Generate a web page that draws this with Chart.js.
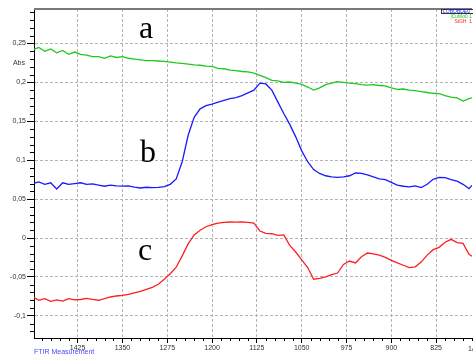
<!DOCTYPE html>
<html lang="en">
    <head>
        <meta charset="UTF-8" />
        <title>FTIR Measurement</title>
        <script src="https://cdn.jsdelivr.net/npm/chart.js"></script>
        <style>
            body { margin: 0; background: #fff; }
            canvas { display: block; }
        </style>
    </head>
    <body>
        <canvas id="ftir" width="473" height="356"></canvas>

        <script>
            // Wavenumber (1/cm) shared by the three spectra
            const wavenumbers = [
                1500, 1490, 1480, 1470, 1460, 1450, 1440, 1430, 1420, 1410,
                1400, 1390, 1380, 1370, 1360, 1350, 1340, 1330, 1320, 1310,
                1300, 1290, 1280, 1270, 1260, 1250, 1240, 1230, 1220, 1210,
                1200, 1190, 1180, 1170, 1160, 1150, 1140, 1130, 1120, 1110,
                1100, 1090, 1080, 1070, 1060, 1050, 1040, 1030, 1020, 1010,
                1000, 990, 980, 970, 960, 950, 940, 930, 920, 910,
                900, 890, 880, 870, 860, 850, 840, 830, 820, 810,
                800, 790, 780, 770, 765
            ];

            // a (green)
            const absA = [
                0.242, 0.245, 0.240, 0.243, 0.238, 0.241, 0.236, 0.239, 0.236, 0.235,
                0.233, 0.233, 0.231, 0.234, 0.232, 0.233, 0.231, 0.230, 0.229, 0.228,
                0.228, 0.2275, 0.227, 0.226, 0.225, 0.2245, 0.2235, 0.2225, 0.222, 0.221,
                0.2205, 0.218, 0.2175, 0.2158, 0.215, 0.214, 0.2135, 0.212, 0.209, 0.206,
                0.2025, 0.202, 0.200, 0.2005, 0.199, 0.1975, 0.194, 0.190, 0.193, 0.197,
                0.199, 0.2010, 0.200, 0.199, 0.1985, 0.197, 0.1965, 0.197, 0.196, 0.1955,
                0.193, 0.191, 0.1915, 0.190, 0.1895, 0.1880, 0.187, 0.186, 0.1855, 0.183,
                0.181, 0.180, 0.176, 0.179, 0.180
            ];

            // b (blue)
            const absB = [
                0.070, 0.072, 0.069, 0.071, 0.063, 0.071, 0.069, 0.070, 0.071, 0.069,
                0.0695, 0.068, 0.0665, 0.068, 0.067, 0.0668, 0.067, 0.0655, 0.0643, 0.0652,
                0.0648, 0.065, 0.066, 0.069, 0.076, 0.098, 0.132, 0.155, 0.166, 0.170,
                0.172, 0.1745, 0.177, 0.179, 0.1805, 0.183, 0.1865, 0.190, 0.199, 0.198,
                0.190, 0.175, 0.160, 0.146, 0.130, 0.112, 0.098, 0.088, 0.083, 0.080,
                0.0785, 0.078, 0.0785, 0.080, 0.0835, 0.083, 0.081, 0.0785, 0.076, 0.075,
                0.0715, 0.068, 0.0665, 0.0656, 0.067, 0.0648, 0.069, 0.0755, 0.078, 0.0775,
                0.075, 0.073, 0.069, 0.0635, 0.0677
            ];

            // c (red)
            const absC = [
                -0.0755, -0.080, -0.078, -0.0815, -0.0795, -0.081, -0.078, -0.0795, -0.079, -0.0775,
                -0.079, -0.080, -0.078, -0.0758, -0.0745, -0.0737, -0.0725, -0.0705, -0.0685, -0.066,
                -0.0635, -0.0595, -0.053, -0.046, -0.0375, -0.023, -0.0075, 0.004, 0.0099, 0.0145,
                0.0172, 0.019, 0.020, 0.0206, 0.0205, 0.0208, 0.020, 0.019, 0.009, 0.006,
                0.0055, 0.0035, 0.004, -0.0094, -0.018, -0.028, -0.038, -0.053, -0.052, -0.050,
                -0.047, -0.045, -0.034, -0.0296, -0.032, -0.024, -0.0193, -0.0205, -0.022, -0.025,
                -0.0287, -0.032, -0.035, -0.038, -0.037, -0.031, -0.022, -0.015, -0.012, -0.0055,
                -0.0017, -0.006, -0.007, -0.021, -0.0235
            ];

            const seriesNames = ["a", "b", "c"];
            const seriesColors = ["#1ec81e", "#1a1aff", "#ff1e1e"];

            function toPoints(values) {
                return wavenumbers.map((w, i) => ({ x: w, y: values[i] }));
            }

            function isMajorY(v) {
                return Math.round(v * 1000) % 50 === 0;
            }
            function isMajorX(v) {
                return Math.round(v) % 75 === 0;
            }
            function formatAbs(v) {
                const r = Math.round(v * 100) / 100;
                return String(r).replace(".", ",");
            }

            // extra drawing: minor ticks, frame top, annotations
            const extras = {
                id: "extras",
                afterDraw(chart) {
                    const ctx = chart.ctx;
                    const area = chart.chartArea;
                    const xs = chart.scales.x;
                    const ys = chart.scales.y;
                    ctx.save();

                    // minor ticks
                    ctx.strokeStyle = "#000";
                    ctx.lineWidth = 1;
                    ctx.beginPath();
                    ys.ticks.forEach((t) => {
                        if (isMajorY(t.value)) return;
                        const y = Math.round(ys.getPixelForValue(t.value)) + 0.5;
                        ctx.moveTo(area.left - 4, y);
                        ctx.lineTo(area.left, y);
                    });
                    xs.ticks.forEach((t) => {
                        if (isMajorX(t.value)) return;
                        const x = Math.round(xs.getPixelForValue(t.value)) + 0.5;
                        ctx.moveTo(x, area.bottom);
                        ctx.lineTo(x, area.bottom + 3);
                    });
                    ctx.stroke();

                    // top frame line
                    ctx.strokeStyle = "#7a7a7a";
                    ctx.lineWidth = 2;
                    ctx.beginPath();
                    ctx.moveTo(area.left, area.top);
                    ctx.lineTo(area.right, area.top);
                    ctx.stroke();

                    // axis titles and footer
                    ctx.font = "7px 'Liberation Sans', Arial, sans-serif";
                    ctx.fillStyle = "#333";
                    ctx.textAlign = "right";
                    ctx.textBaseline = "middle";
                    ctx.fillText("Abs", 25, 63);
                    ctx.textAlign = "left";
                    ctx.fillText("1/cm", 468, 349);
                    ctx.fillStyle = "#4a4aff";
                    ctx.fillText("FTIR Measurement", 34, 352);

                    // curve letters
                    ctx.font = "32px 'Liberation Serif', 'Times New Roman', serif";
                    ctx.fillStyle = "#000";
                    ctx.textBaseline = "alphabetic";
                    ctx.fillText(seriesNames[0], 139, 38);
                    ctx.fillText(seriesNames[1], 140, 162);
                    ctx.fillText(seriesNames[2], 138, 260);

                    // small legend in the corner
                    ctx.fillStyle = "#fff";
                    ctx.fillRect(441, 9, 32, 4);
                    ctx.strokeStyle = "#333";
                    ctx.lineWidth = 1;
                    ctx.strokeRect(441.5, 9.5, 33, 4);
                    ctx.font = "5px 'Liberation Sans', Arial, sans-serif";
                    ctx.textBaseline = "middle";
                    ctx.textAlign = "left";
                    ctx.fillStyle = seriesColors[1];
                    ctx.fillText("LOBOBDE0", 443, 11.5);
                    ctx.textAlign = "right";
                    ctx.fillStyle = seriesColors[0];
                    ctx.fillText("|CuMo0 1", 472, 16.5);
                    ctx.fillStyle = seriesColors[2];
                    ctx.fillText("SiGH  1", 472, 21.5);

                    ctx.restore();
                },
            };

            const ctx = document.getElementById("ftir").getContext("2d");
            const chart = new Chart(ctx, {
                type: "line",
                data: {
                    datasets: [absA, absB, absC].map((vals, i) => ({
                        label: seriesNames[i],
                        data: toPoints(vals),
                        borderColor: seriesColors[i],
                        borderWidth: 1.3,
                        pointRadius: 0,
                        tension: 0,
                        fill: false,
                    })),
                },
                options: {
                    responsive: false,
                    animation: false,
                    layout: { padding: { top: 9, right: 0, bottom: 0, left: 0 } },
                    plugins: {
                        legend: { display: false },
                        tooltip: { enabled: false },
                    },
                    scales: {
                        x: {
                            type: "linear",
                            reverse: true,
                            min: 765,
                            max: 1498,
                            afterFit: (s) => { s.height = 18; },
                            border: { color: "#000", width: 1, dash: [3, 2] },
                            grid: {
                                color: (c) => (c.tick && isMajorX(c.tick.value) ? "#b4b4b4" : "transparent"),
                                tickColor: (c) => (c.tick && isMajorX(c.tick.value) ? "#000" : "transparent"),
                                tickLength: 5,
                            },
                            ticks: {
                                stepSize: 15,
                                maxTicksLimit: 1000,
                                includeBounds: false,
                                autoSkip: false,
                                maxRotation: 0,
                                padding: 1,
                                color: "#333",
                                font: { family: "'Liberation Sans', Arial, sans-serif", size: 7 },
                                callback: (v) => (isMajorX(v) ? String(Math.round(v)) : ""),
                            },
                        },
                        y: {
                            min: -0.1285,
                            max: 0.2943,
                            afterFit: (s) => { s.width = 34; },
                            border: { color: "#000", width: 1, dash: [3, 2] },
                            grid: {
                                color: (c) => (c.tick && isMajorY(c.tick.value) ? "#b4b4b4" : "transparent"),
                                tickColor: (c) => (c.tick && isMajorY(c.tick.value) ? "#000" : "transparent"),
                                tickLength: 7,
                            },
                            ticks: {
                                stepSize: 0.01,
                                maxTicksLimit: 1000,
                                includeBounds: false,
                                autoSkip: false,
                                padding: 1,
                                color: "#333",
                                font: { family: "'Liberation Sans', Arial, sans-serif", size: 7 },
                                callback: (v) => (isMajorY(v) ? formatAbs(v) : ""),
                            },
                        },
                    },
                },
                plugins: [extras],
            });
        </script>
    </body>
</html>
